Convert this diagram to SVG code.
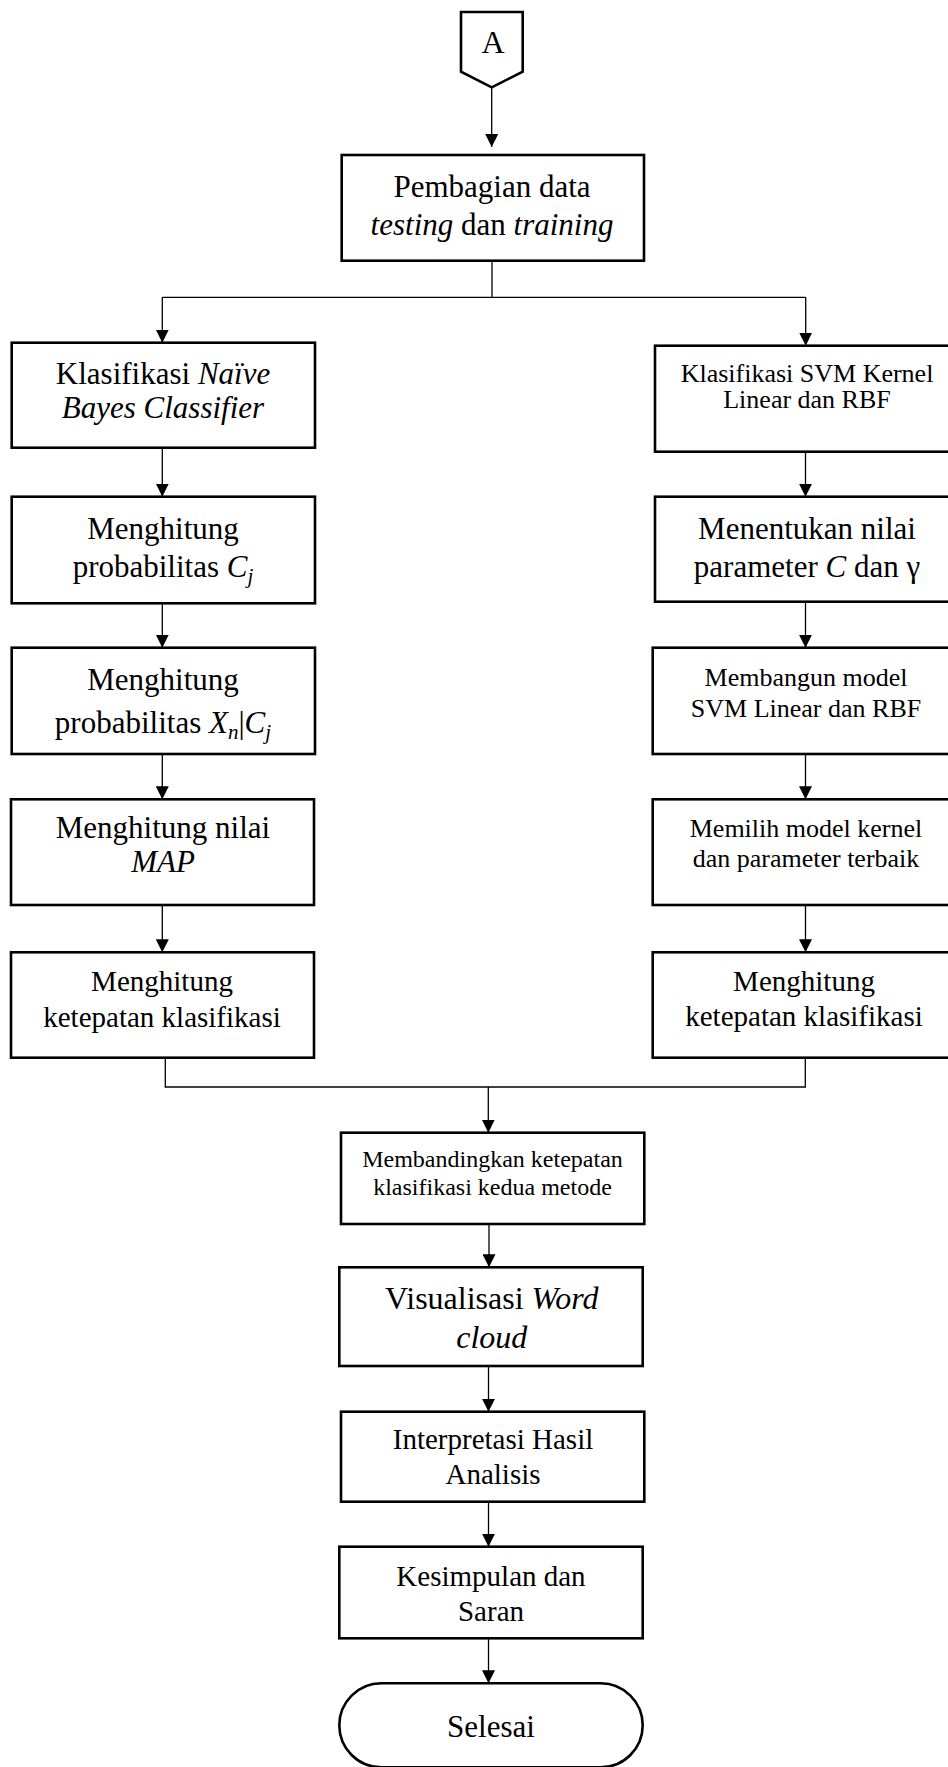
<svg xmlns="http://www.w3.org/2000/svg" width="948" height="1767" viewBox="0 0 948 1767">
<defs>
<marker id="ah" markerUnits="userSpaceOnUse" markerWidth="13" markerHeight="13" refX="13" refY="6.5" orient="auto">
<path d="M0,0 L13,6.5 L0,13 z" fill="#000"/>
</marker>
<style>
.box{fill:#fff;stroke:#000;stroke-width:2.6}
.c{fill:none;stroke:#000;stroke-width:1.3}
.a{fill:none;stroke:#000;stroke-width:1.3;marker-end:url(#ah)}
text{font-family:"Liberation Serif","Times New Roman",serif;fill:#000;text-anchor:middle}
.i{font-style:italic}
.f24{font-size:24px}.f26{font-size:26px}.f29{font-size:29px}.f31{font-size:31px}.f32{font-size:32px}
.sub{font-size:21px;font-style:italic}
</style>
</defs>
<rect width="948" height="1767" fill="#fff"/>

<g id="connectors">
<line class="a" x1="491.7" y1="87" x2="491.7" y2="147"/>
<line class="c" x1="492" y1="260.7" x2="492" y2="297.3"/>
<line class="c" x1="162.3" y1="297.3" x2="805.7" y2="297.3"/>
<line class="a" x1="162.3" y1="297.3" x2="162.3" y2="342.7"/>
<line class="a" x1="805.7" y1="297.3" x2="805.7" y2="345.7"/>
<line class="a" x1="162.3" y1="447.7" x2="162.3" y2="496.7"/>
<line class="a" x1="162.3" y1="603.3" x2="162.3" y2="647.7"/>
<line class="a" x1="162.3" y1="754" x2="162.3" y2="799.3"/>
<line class="a" x1="162.3" y1="905" x2="162.3" y2="952.3"/>
<line class="a" x1="805.5" y1="451.7" x2="805.5" y2="496.7"/>
<line class="a" x1="805.5" y1="601.7" x2="805.5" y2="647.7"/>
<line class="a" x1="805.5" y1="754" x2="805.5" y2="799.3"/>
<line class="a" x1="805.5" y1="905" x2="805.5" y2="952.3"/>
<polyline class="c" points="165.3,1057.7 165.3,1087 805.3,1087 805.3,1057.7"/>
<line class="a" x1="488.3" y1="1087" x2="488.3" y2="1132.7"/>
<line class="a" x1="489" y1="1224" x2="489" y2="1267.3"/>
<line class="a" x1="488.5" y1="1366" x2="488.5" y2="1411.7"/>
<line class="a" x1="488.5" y1="1501.7" x2="488.5" y2="1546.7"/>
<line class="a" x1="488.5" y1="1638.3" x2="488.5" y2="1683.3"/>
</g>

<g id="nodeA">
<polygon class="box" points="461,12 522.7,12 522.7,71.7 491.7,87.3 461,71.7"/>
<text class="f32" x="493" y="52.7">A</text>
</g>

<g id="pembagian">
<rect class="box" x="341.7" y="155" width="302.3" height="105.7"/>
<text class="f31" x="492" y="196.7">Pembagian data</text>
<text class="f31" x="492" y="235"><tspan class="i">testing</tspan> dan <tspan class="i">training</tspan></text>
</g>

<g id="nbc">
<rect class="box" x="11.7" y="342.7" width="303.3" height="105"/>
<text class="f31" x="163" y="384.3">Klasifikasi <tspan class="i">Naïve</tspan></text>
<text class="f31 i" x="163" y="418.3">Bayes Classifier</text>
</g>

<g id="probCj">
<rect class="box" x="11.7" y="496.7" width="303.3" height="106.6"/>
<text class="f31" x="163" y="539.3">Menghitung</text>
<text class="f31" x="163" y="577">probabilitas <tspan class="i">C</tspan><tspan class="sub" dy="6">j</tspan></text>
</g>

<g id="probXnCj">
<rect class="box" x="11.7" y="647.7" width="303.3" height="106.3"/>
<text class="f31" x="163" y="690">Menghitung</text>
<text class="f31" x="163" y="732.7">probabilitas <tspan class="i">X</tspan><tspan class="sub" dy="6">n</tspan><tspan dy="-6">|</tspan><tspan class="i">C</tspan><tspan class="sub" dy="6">j</tspan></text>
</g>

<g id="map">
<rect class="box" x="11" y="799.3" width="303" height="105.7"/>
<text class="f31" x="163" y="838">Menghitung nilai</text>
<text class="f31 i" x="163" y="872">MAP</text>
</g>

<g id="akurasiNBC">
<rect class="box" x="11" y="952.3" width="303" height="105.4"/>
<text class="f29" x="162" y="991">Menghitung</text>
<text class="f29" x="162" y="1026.7">ketepatan klasifikasi</text>
</g>

<g id="svm">
<rect class="box" x="655" y="345.7" width="305" height="106"/>
<text class="f26" x="807" y="381.7">Klasifikasi SVM Kernel</text>
<text class="f26" x="807" y="408">Linear dan RBF</text>
</g>

<g id="parameter">
<rect class="box" x="655" y="496.7" width="305" height="105"/>
<text class="f31" x="807" y="539.3">Menentukan nilai</text>
<text class="f31" x="807" y="576.7">parameter <tspan class="i">C</tspan> dan γ</text>
</g>

<g id="membangun">
<rect class="box" x="652.7" y="647.7" width="307" height="106.3"/>
<text class="f26" x="806" y="686">Membangun model</text>
<text class="f26" x="806" y="717.3">SVM Linear dan RBF</text>
</g>

<g id="memilih">
<rect class="box" x="652.7" y="799.3" width="307" height="105.7"/>
<text class="f26" x="806" y="836.7">Memilih model kernel</text>
<text class="f26" x="806" y="867.3">dan parameter terbaik</text>
</g>

<g id="akurasiSVM">
<rect class="box" x="652.7" y="952.3" width="307" height="105.4"/>
<text class="f29" x="804" y="991">Menghitung</text>
<text class="f29" x="804" y="1025.7">ketepatan klasifikasi</text>
</g>

<g id="membandingkan">
<rect class="box" x="341" y="1132.7" width="303.3" height="91.3"/>
<text class="f24" x="492.5" y="1167.3">Membandingkan ketepatan</text>
<text class="f24" x="492.5" y="1195">klasifikasi kedua metode</text>
</g>

<g id="wordcloud">
<rect class="box" x="339.3" y="1267.3" width="303.4" height="98.7"/>
<text class="f32" x="491.8" y="1309.3">Visualisasi <tspan class="i">Word</tspan></text>
<text class="f32 i" x="491.8" y="1347.7">cloud</text>
</g>

<g id="interpretasi">
<rect class="box" x="341" y="1411.7" width="303.3" height="90"/>
<text class="f29" x="493" y="1449.3">Interpretasi Hasil</text>
<text class="f29" x="493" y="1484">Analisis</text>
</g>

<g id="kesimpulan">
<rect class="box" x="339.3" y="1546.7" width="303.4" height="91.6"/>
<text class="f29" x="491" y="1585.7">Kesimpulan dan</text>
<text class="f29" x="491" y="1620.7">Saran</text>
</g>

<g id="selesai">
<rect class="box" x="339.3" y="1683.3" width="303.4" height="84" rx="42" ry="42"/>
<text class="f31" x="491" y="1736.7">Selesai</text>
</g>
</svg>
